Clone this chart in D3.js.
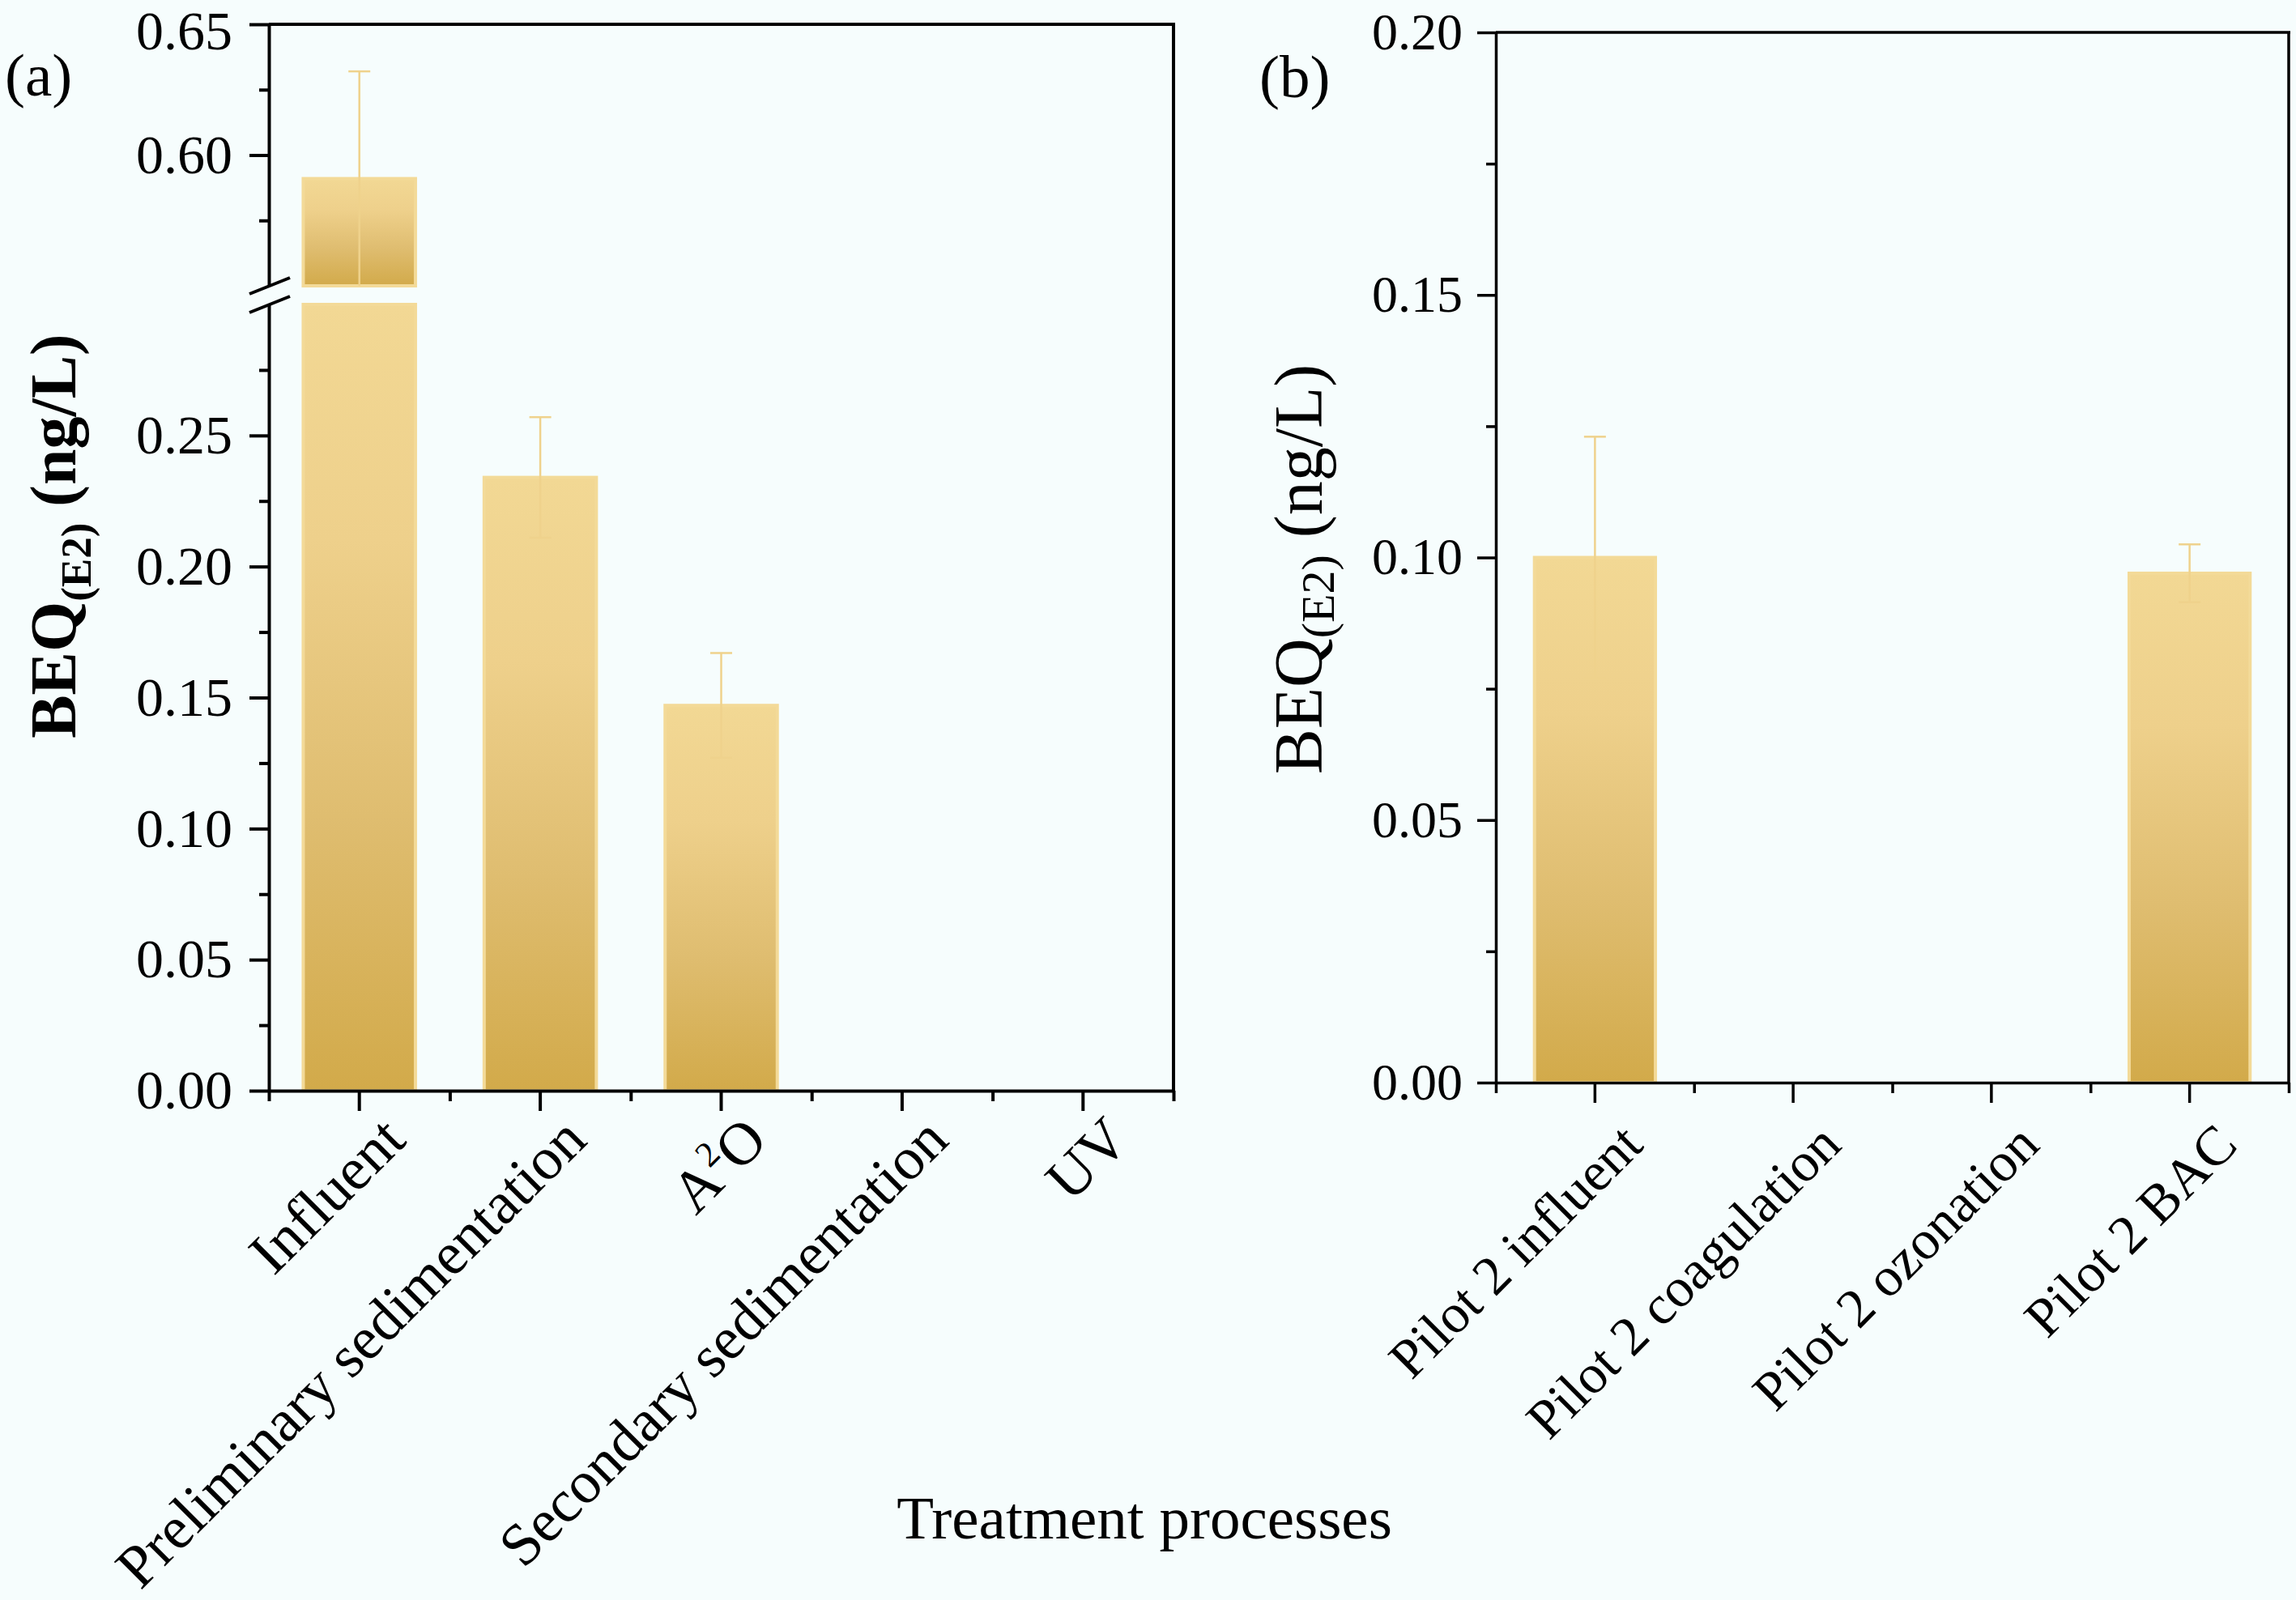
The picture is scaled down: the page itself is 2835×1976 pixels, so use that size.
<!DOCTYPE html>
<html>
<head>
<meta charset="utf-8">
<script src="https://cdn.jsdelivr.net/npm/d3@7"></script>
<style>
  html, body { margin: 0; padding: 0; background: #f6fdfd; }
  svg { display: block; }
  text { font-family: "Liberation Serif", "Times New Roman", serif; fill: #000; }
</style>
</head>
<body>
<div class="chart"></div>
<script>
// panel (a) - wastewater plant
var catsA = ["Influent", "Preliminary sedimentation", "A2O", "Secondary sedimentation", "UV"];
var valsA = [0.591, 0.234, 0.147, 0, 0];
var errA  = [0.041, 0.023, 0.020, 0, 0];
var ticksLowA  = [0, 0.05, 0.10, 0.15, 0.20, 0.25];
var minorLowA  = [0.025, 0.075, 0.125, 0.175, 0.225, 0.275];
var ticksHighA = [0.60, 0.65];
var minorHighA = [0.575, 0.625];
var breakLow = 0.30, breakHigh = 0.55;

// panel (b) - pilot 2
var catsB = ["Pilot 2 influent", "Pilot 2 coagulation", "Pilot 2 ozonation", "Pilot 2 BAC"];
var valsB = [0.100, 0, 0, 0.097];
var errB  = [0.023, 0, 0, 0.0055];
var ticksB = [0, 0.05, 0.10, 0.15, 0.20];
var minorB = [0.025, 0.075, 0.125, 0.175];

var W = 2835, H = 1976;
var axisColor = "#000", errColor = "#efd28c";
var fmt = d3.format(".2f");

var svg = d3.select(".chart").append("svg")
    .attr("width", W).attr("height", H);

svg.append("rect").attr("width", W).attr("height", H).attr("fill", "#f6fdfd");

var defs = svg.append("defs");
var grad = defs.append("linearGradient").attr("id", "barGrad")
    .attr("x1", 0).attr("y1", 0).attr("x2", 0).attr("y2", 1);
grad.append("stop").attr("offset", "0%").attr("stop-color", "#f2d894");
grad.append("stop").attr("offset", "30%").attr("stop-color", "#eed08b");
grad.append("stop").attr("offset", "65%").attr("stop-color", "#dfbd70");
grad.append("stop").attr("offset", "100%").attr("stop-color", "#d2aa4a");

function styleAxis(g, w) {
    g.selectAll("path").attr("stroke", axisColor).attr("stroke-width", w);
    g.selectAll("line").attr("stroke", axisColor).attr("stroke-width", w);
}

function barLabels(g, dx, dy, size) {
    g.selectAll(".tick text")
        .attr("x", 0).attr("y", 0).attr("dy", 0)
        .attr("text-anchor", "end")
        .style("font-size", size + "px")
        .attr("transform", "translate(" + dx + "," + dy + ") rotate(-45)")
        .each(function(d) {
            if (d === "A2O") {
                var t = d3.select(this).text("");
                t.append("tspan").text("A");
                t.append("tspan").text("2").style("font-size", Math.round(size * 0.6) + "px").attr("dy", -Math.round(size * 0.4));
                t.append("tspan").text("O").attr("dy", Math.round(size * 0.4));
            }
        });
}

function errorBars(g, x, y, data, lo, hi, capW) {
    data.forEach(function(d) {
        if (d.e <= 0 || d.v <= 0) return;
        var top = Math.min(d.v + d.e, hi), bot = Math.max(d.v - d.e, lo);
        if (top <= lo || bot >= hi) return;
        var cx = x(d.c) + x.bandwidth() / 2;
        g.append("line").attr("x1", cx).attr("x2", cx)
            .attr("y1", y(top)).attr("y2", y(bot))
            .attr("stroke", errColor).attr("stroke-width", 2.5);
        if (d.v + d.e <= hi)
            g.append("line").attr("x1", cx - capW / 2).attr("x2", cx + capW / 2)
                .attr("y1", y(d.v + d.e)).attr("y2", y(d.v + d.e))
                .attr("stroke", errColor).attr("stroke-width", 2.5);
        if (d.v - d.e >= lo)
            g.append("line").attr("x1", cx - capW / 2).attr("x2", cx + capW / 2)
                .attr("y1", y(d.v - d.e)).attr("y2", y(d.v - d.e))
                .attr("stroke", errColor).attr("stroke-width", 2.5);
    });
}

// ---------- panel (a) ----------
var left = 332, right = 1449, bottom = 1347;
var xA = d3.scaleBand().domain(catsA).range([left, right]).paddingInner(0.38).paddingOuter(0.19);
var yLow = d3.scaleLinear().domain([0, breakLow]).range([bottom, 376]);
var yHigh = d3.scaleLinear().domain([breakHigh, 0.65]).range([353, 30]);
var dataA = catsA.map(function(c, i) { return {c: c, v: valsA[i], e: errA[i]}; });

var gA = svg.append("g");

// bars, lower segment
gA.selectAll("rect.low").data(dataA.filter(function(d) { return d.v > 0; }))
  .enter().append("rect").attr("class", "low")
    .attr("x", function(d) { return xA(d.c); })
    .attr("width", xA.bandwidth())
    .attr("y", function(d) { return yLow(Math.min(d.v, breakLow)); })
    .attr("height", function(d) { return bottom - yLow(Math.min(d.v, breakLow)); })
    .attr("fill", "url(#barGrad)")
    .attr("stroke", "#f3da98").attr("stroke-width", 4);

// bars, upper segment
gA.selectAll("rect.high").data(dataA.filter(function(d) { return d.v > breakHigh; }))
  .enter().append("rect").attr("class", "high")
    .attr("x", function(d) { return xA(d.c); })
    .attr("width", xA.bandwidth())
    .attr("y", function(d) { return yHigh(d.v); })
    .attr("height", function(d) { return yHigh(breakHigh) - yHigh(d.v); })
    .attr("fill", "url(#barGrad)")
    .attr("stroke", "#f3da98").attr("stroke-width", 4);

errorBars(gA, xA, yLow, dataA, 0, breakLow, 27);
errorBars(gA, xA, yHigh, dataA, breakHigh, 0.65, 27);

// y axis, lower part
var axLow = gA.append("g").attr("transform", "translate(" + left + ",0)")
    .call(d3.axisLeft(yLow).tickValues(ticksLowA).tickFormat(fmt).tickSize(24).tickSizeOuter(0).tickPadding(21));
axLow.append("g").call(d3.axisLeft(yLow).tickValues(minorLowA).tickFormat("").tickSize(12).tickSizeOuter(0))
    .select(".domain").remove();
styleAxis(axLow, 4);
axLow.selectAll("text").style("font-size", "68px");

// y axis, upper part
var axHigh = gA.append("g").attr("transform", "translate(" + left + ",0)")
    .call(d3.axisLeft(yHigh).tickValues(ticksHighA).tickFormat(fmt).tickSize(24).tickSizeOuter(0).tickPadding(21));
axHigh.append("g").call(d3.axisLeft(yHigh).tickValues(minorHighA).tickFormat("").tickSize(12).tickSizeOuter(0))
    .select(".domain").remove();
styleAxis(axHigh, 4);
axHigh.selectAll("text").style("font-size", "68px");
// top label sits on the page edge; nudge it down so it stays whole
axHigh.selectAll(".tick text").filter(function(d) { return d === 0.65; }).attr("y", 9);

// break marks
[yHigh(breakHigh), yLow(breakLow)].forEach(function(yy) {
    gA.append("line").attr("x1", left - 24).attr("x2", left + 26)
        .attr("y1", yy + 10).attr("y2", yy - 10)
        .attr("stroke", axisColor).attr("stroke-width", 4);
});

// x axis
var axXA = gA.append("g").attr("transform", "translate(0," + bottom + ")")
    .call(d3.axisBottom(xA).tickSize(25).tickSizeOuter(0));
var edgeA = d3.scaleLinear().domain([0, catsA.length]).range([left, right]);
axXA.append("g").call(d3.axisBottom(edgeA).tickValues(d3.range(catsA.length + 1)).tickFormat("").tickSize(13).tickSizeOuter(0))
    .select(".domain").remove();
styleAxis(axXA, 4);
barLabels(axXA, 60, 64, 74);

// frame top / right
gA.append("line").attr("x1", left).attr("x2", right + 2).attr("y1", yHigh(0.65)).attr("y2", yHigh(0.65))
    .attr("stroke", axisColor).attr("stroke-width", 4);
gA.append("line").attr("x1", right).attr("x2", right).attr("y1", yHigh(0.65)).attr("y2", bottom)
    .attr("stroke", axisColor).attr("stroke-width", 4);

// y title (a)
var tA = gA.append("text")
    .attr("transform", "translate(93,662) rotate(-90)")
    .attr("text-anchor", "middle")
    .style("font-size", "80px").style("font-weight", "bold");
tA.append("tspan").text("BEQ");
tA.append("tspan").text("(E2)").style("font-size", "53px").attr("dy", 19);
tA.append("tspan").text(" (ng/L)").attr("dy", -19);

gA.append("text").attr("x", 6).attr("y", 118).style("font-size", "75px").text("(a)");

// ---------- panel (b) ----------
var leftB = 1847, rightB = 2826, bottomB = 1337;
var xB = d3.scaleBand().domain(catsB).range([leftB, rightB]).paddingInner(0.39).paddingOuter(0.195);
var yB = d3.scaleLinear().domain([0, 0.20]).range([bottomB, 40]);
var dataB = catsB.map(function(c, i) { return {c: c, v: valsB[i], e: errB[i]}; });

var gB = svg.append("g");

gB.selectAll("rect").data(dataB.filter(function(d) { return d.v > 0; }))
  .enter().append("rect")
    .attr("x", function(d) { return xB(d.c); })
    .attr("width", xB.bandwidth())
    .attr("y", function(d) { return yB(d.v); })
    .attr("height", function(d) { return bottomB - yB(d.v); })
    .attr("fill", "url(#barGrad)")
    .attr("stroke", "#f3da98").attr("stroke-width", 4);

errorBars(gB, xB, yB, dataB, 0, 0.20, 27);

var axYB = gB.append("g").attr("transform", "translate(" + leftB + ",0)")
    .call(d3.axisLeft(yB).tickValues(ticksB).tickFormat(fmt).tickSize(23).tickSizeOuter(0).tickPadding(18));
axYB.append("g").call(d3.axisLeft(yB).tickValues(minorB).tickFormat("").tickSize(12).tickSizeOuter(0))
    .select(".domain").remove();
styleAxis(axYB, 3.5);
axYB.selectAll("text").style("font-size", "64px");

var axXB = gB.append("g").attr("transform", "translate(0," + bottomB + ")")
    .call(d3.axisBottom(xB).tickSize(25).tickSizeOuter(0));
var edgeB = d3.scaleLinear().domain([0, catsB.length]).range([leftB, rightB]);
axXB.append("g").call(d3.axisBottom(edgeB).tickValues(d3.range(catsB.length + 1)).tickFormat("").tickSize(13).tickSizeOuter(0))
    .select(".domain").remove();
styleAxis(axXB, 3.5);
barLabels(axXB, 62, 80, 68);

gB.append("line").attr("x1", leftB).attr("x2", rightB + 2).attr("y1", yB(0.20)).attr("y2", yB(0.20))
    .attr("stroke", axisColor).attr("stroke-width", 3.5);
gB.append("line").attr("x1", rightB).attr("x2", rightB).attr("y1", yB(0.20)).attr("y2", bottomB)
    .attr("stroke", axisColor).attr("stroke-width", 3.5);

var tB = gB.append("text")
    .attr("transform", "translate(1632,703) rotate(-90)")
    .attr("text-anchor", "middle")
    .style("font-size", "84px");
tB.append("tspan").text("BEQ");
tB.append("tspan").text("(E2)").style("font-size", "58px").attr("dy", 15);
tB.append("tspan").text(" (ng/L)").attr("dy", -15);

gB.append("text").attr("x", 1555).attr("y", 120).style("font-size", "75px").text("(b)");

// shared x title
svg.append("text").attr("x", 1413).attr("y", 1900)
    .attr("text-anchor", "middle").style("font-size", "75px")
    .text("Treatment processes");
</script>
</body>
</html>
